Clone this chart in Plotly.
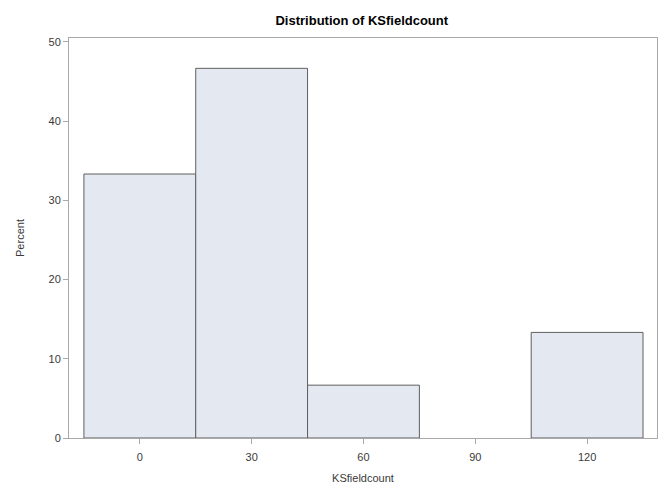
import plotly.graph_objects as go

bin_midpoints = [0, 30, 60, 90, 120]
percent = [33.33, 46.67, 6.67, 0.0, 13.33]
x_ticks = [0, 30, 60, 90, 120]
y_ticks = [0, 10, 20, 30, 40, 50]

outline = ["#5f5f5f" if v > 0 else "rgba(0,0,0,0)" for v in percent]

fig = go.Figure()
fig.add_trace(go.Bar(
    x=bin_midpoints, y=percent, width=30,
    marker=dict(color="#e4e8f1", line=dict(color=outline, width=1)),
))

axis_common = dict(
    showline=True, linecolor="#a8a8a8", linewidth=1, mirror=True,
    ticks="outside", ticklen=5, tickcolor="#a8a8a8",
    showgrid=False, zeroline=False,
    tickfont=dict(family="Liberation Sans, Arial", size=11, color="#3a3a3a"),
)

fig.update_layout(
    width=659, height=486,
    margin=dict(l=69, r=2, t=38, b=48),
    paper_bgcolor="white", plot_bgcolor="white",
    showlegend=False,
    title=dict(text="<b>Distribution of KSfieldcount</b>", x=0.549, xanchor="center",
               y=1 - 20 / 486, yref="container", yanchor="middle",
               font=dict(family="Liberation Sans, Arial", size=13, color="#000000")),
    xaxis=dict(axis_common, range=[-19, 138.75], tickvals=x_ticks, ticklabelstandoff=4,
               title=dict(text="KSfieldcount", standoff=12,
                          font=dict(family="Liberation Sans, Arial", size=11, color="#3a3a3a"))),
    yaxis=dict(axis_common, range=[0, 50.5], tickvals=y_ticks,
               title=dict(text="Percent", standoff=21,
                          font=dict(family="Liberation Sans, Arial", size=11, color="#3a3a3a"))),
)

fig.write_html("out.html", config={"displayModeBar": False},
               post_script="document.body.style.margin='0';")
